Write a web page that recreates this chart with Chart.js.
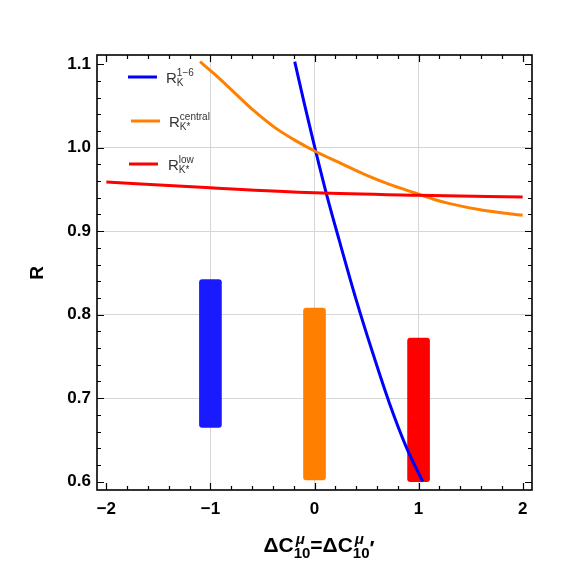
<!DOCTYPE html>
<html>
<head>
<meta charset="utf-8">
<script src="https://cdn.jsdelivr.net/npm/chart.js@4/dist/chart.umd.min.js"></script>
<style>
  html, body { margin: 0; padding: 0; background: #fff; }
  #wrap { width: 563px; height: 567px; }
</style>
</head>
<body>
<div id="wrap"><canvas id="c" width="563" height="567"></canvas></div>
<script>
// curves
const blueX = [-0.19, -0.1, -0.016, 0.112, 0.24, 0.40, 0.56, 0.72, 0.88, 1.04];
const blueY = [1.103, 1.054, 1.010, 0.946, 0.888, 0.818, 0.754, 0.694, 0.642, 0.600];

const orangeX = [-1.1, -0.96, -0.77, -0.58, -0.38, -0.19, 0, 0.24, 0.48, 0.72, 0.96, 1.15, 1.3, 1.62, 2.0];
const orangeY = [1.103, 1.088, 1.066, 1.044, 1.024, 1.009, 0.996, 0.982, 0.968, 0.956, 0.946, 0.938, 0.933, 0.925, 0.919];

const redX = [-2, -1, 0, 1, 2];
const redY = [0.959, 0.952, 0.946, 0.943, 0.941];

// measured ranges (vertical bands)
const bandX = [-1, 0, 1];
const bandLow = [0.665, 0.602, 0.600];
const bandHigh = [0.842, 0.808, 0.772];

const xTicks = [-2, -1, 0, 1, 2];
const xTickLabels = ["\u22122", "\u22121", "0", "1", "2"];
const yTicks = [0.6, 0.7, 0.8, 0.9, 1.0, 1.1];
const yTickLabels = ["0.6", "0.7", "0.8", "0.9", "1.0", "1.1"];
const xGrid = [-1, 0, 1];
const yGrid = [0.7, 0.8, 0.9, 1.0];

const BLUE = "#0000ff", ORANGE = "#ff8000", RED = "#ff0000";
const FONT = "'Liberation Sans', Arial, sans-serif";

const pts = (xs, ys) => xs.map((x, i) => ({ x: x, y: ys[i] }));

// frame, inward ticks on all sides, axis titles, legend
const decor = {
  id: "decor",
  afterDatasetsDraw(chart) {
    const { ctx, chartArea: a, scales: { x, y } } = chart;
    ctx.save();
    ctx.strokeStyle = "#000";
    ctx.lineWidth = 1.2;
    ctx.beginPath();
    for (let k = -10; k <= 10; k++) {
      const v = k / 5;
      const px = Math.round(x.getPixelForValue(v)) + 0.5;
      if (px < a.left || px > a.right) continue;
      const len = k % 5 === 0 ? 7 : 4;
      ctx.moveTo(px, a.bottom); ctx.lineTo(px, a.bottom - len);
      ctx.moveTo(px, a.top); ctx.lineTo(px, a.top + len);
    }
    for (let k = 30; k <= 55; k++) {
      const v = k / 50;
      const py = Math.round(y.getPixelForValue(v)) + 0.5;
      if (py < a.top || py > a.bottom) continue;
      const len = k % 5 === 0 ? 7 : 4;
      ctx.moveTo(a.left, py); ctx.lineTo(a.left + len, py);
      ctx.moveTo(a.right, py); ctx.lineTo(a.right - len, py);
    }
    ctx.stroke();
    ctx.lineWidth = 1.6;
    ctx.strokeRect(a.left, a.top, a.right - a.left, a.bottom - a.top);

    // y title
    ctx.fillStyle = "#000";
    ctx.font = "bold 19px " + FONT;
    ctx.textAlign = "center";
    ctx.textBaseline = "middle";
    ctx.save();
    ctx.translate(38, 273);
    ctx.rotate(-Math.PI / 2);
    ctx.fillText("R", 0, 0);
    ctx.restore();

    // x title: ΔC^μ_10 = ΔC^μ_10'
    ctx.textAlign = "left";
    ctx.textBaseline = "alphabetic";
    const base = 552;
    const big = "bold 21px " + FONT, small = "bold 15px " + FONT, mu = "italic bold 15px " + FONT;
    const parts = [
      ["ΔC", big, 0], ["μ", mu, -8, true], ["10", small, 6],
      ["=", big, 0], ["ΔC", big, 0], ["μ", mu, -8, true], ["10", small, 6], ["\u2032", big, 3]
    ];
    let total = 0;
    const widths = parts.map(p => { ctx.font = p[1]; return ctx.measureText(p[0]).width; });
    parts.forEach((p, i) => { if (!p[3]) total += widths[i]; });
    let cx = 319 - total / 2;
    parts.forEach((p, i) => {
      ctx.font = p[1];
      if (p[3]) { ctx.fillText(p[0], cx + 2, base + p[2]); return; }
      ctx.fillText(p[0], cx, base + p[2]);
      cx += widths[i];
    });

    // legend
    const rows = [
      { color: BLUE, x0: 128, x1: 157, ly: 77, tx: 166, ty: 83, sup: "1\u22126", sub: "K" },
      { color: ORANGE, x0: 131, x1: 160, ly: 121, tx: 169, ty: 127, sup: "central", sub: "K*" },
      { color: RED, x0: 129, x1: 158, ly: 164, tx: 168, ty: 170, sup: "low", sub: "K*" }
    ];
    rows.forEach(r => {
      ctx.strokeStyle = r.color;
      ctx.lineWidth = 3;
      ctx.beginPath();
      ctx.moveTo(r.x0, r.ly); ctx.lineTo(r.x1, r.ly);
      ctx.stroke();
      ctx.fillStyle = "#333";
      ctx.font = "15px " + FONT;
      ctx.fillText("R", r.tx, r.ty);
      const w = ctx.measureText("R").width;
      ctx.font = "10px " + FONT;
      ctx.fillText(r.sup, r.tx + w, r.ty - 7);
      ctx.fillText(r.sub, r.tx + w, r.ty + 3);
    });
    ctx.restore();
  }
};

new Chart(document.getElementById("c"), {
  type: "line",
  data: {
    datasets: [
      { type: "line", label: "low", data: pts(redX, redY), borderColor: RED, borderWidth: 3,
        pointRadius: 0, cubicInterpolationMode: "monotone", order: 1 },
      { type: "line", label: "central", data: pts(orangeX, orangeY), borderColor: ORANGE, borderWidth: 3,
        pointRadius: 0, cubicInterpolationMode: "monotone", order: 2 },
      { type: "line", label: "1-6", data: pts(blueX, blueY), borderColor: BLUE, borderWidth: 3,
        pointRadius: 0, cubicInterpolationMode: "monotone", order: 3 },
      { type: "bar", label: "bands",
        data: bandX.map((x, i) => ({ x: x, y: [bandLow[i], bandHigh[i]] })),
        backgroundColor: ["#1a1aff", ORANGE, RED], borderWidth: 0,
        barThickness: 22, borderRadius: 3, borderSkipped: false, order: 4 }
    ]
  },
  options: {
    responsive: false,
    animation: false,
    layout: { padding: { left: 0, top: 55, right: 31, bottom: 0 } },
    plugins: { legend: { display: false }, tooltip: { enabled: false } },
    scales: {
      x: {
        type: "linear", min: -2.09, max: 2.09, offset: false,
        afterBuildTicks: s => { s.ticks = xTicks.map(v => ({ value: v })); },
        afterFit: s => { s.height = 77; },
        ticks: { callback: (v, i) => xTickLabels[i], color: "#000", padding: 9,
                 font: { family: FONT, size: 17, weight: "bold" }, maxRotation: 0 },
        grid: { offset: false,
                color: c => (c.tick && xGrid.includes(c.tick.value)) ? "#d6d6d6" : "rgba(0,0,0,0)",
                drawTicks: false, lineWidth: 1 },
        border: { display: false }
      },
      y: {
        type: "linear", min: 0.59, max: 1.111,
        afterBuildTicks: s => { s.ticks = yTicks.map(v => ({ value: v })); },
        afterFit: s => { s.width = 97; },
        ticks: { callback: (v, i) => yTickLabels[i], color: "#000", padding: 6,
                 font: { family: FONT, size: 17, weight: "bold" } },
        grid: { offset: false,
                color: c => (c.tick && yGrid.some(g => Math.abs(g - c.tick.value) < 1e-6)) ? "#d6d6d6" : "rgba(0,0,0,0)",
                drawTicks: false, lineWidth: 1 },
        border: { display: false }
      }
    }
  },
  plugins: [decor]
});
</script>
</body>
</html>
